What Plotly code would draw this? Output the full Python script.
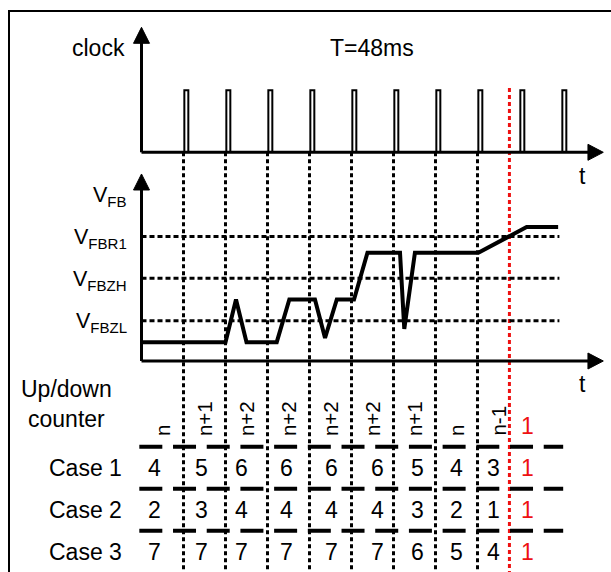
import plotly.graph_objects as go

# ---------------- data ----------------
clock_pulses = [1, 2, 3, 4, 5, 6, 7, 8, 9, 10]      # clock edges (in clock periods)
grid_times = [1, 2, 3, 4, 5, 6, 7, 8]               # dotted sampling lines
reset_time = 8.76                                   # red dashed line
period_label = "T=48ms"

vfb_t = [0, 2.0, 2.25, 2.5, 3.22, 3.52, 4.13, 4.37, 4.65, 5.06, 5.38,
         6.155, 6.257, 6.51, 8.02, 9.17, 9.92]
vfb_v = [0.447, 0.447, 1.461, 0.447, 0.447, 1.461, 1.461, 0.546, 1.461,
         1.461, 2.572, 2.572, 0.760, 2.572, 2.572, 3.183, 3.183]

level_names = ["FBZL", "FBZH", "FBR1"]
level_values = [0.957, 1.964, 2.955]

counter_labels = ["n", "n+1", "n+2", "n+2", "n+2", "n+2", "n+1", "n", "n-1"]
case_names = ["Case 1", "Case 2", "Case 3"]
case1 = [4, 5, 6, 6, 6, 6, 5, 4, 3]
case2 = [2, 3, 4, 4, 4, 4, 3, 2, 1]
case3 = [7, 7, 7, 7, 7, 7, 6, 5, 4]
reset_value = 1

# ---------------- layout constants ----------------
FONT = "Liberation Sans, Arial, Helvetica, sans-serif"
W, H = 611, 572
X0PX, PER = 141.5, 42.0                     # px of t=0, px per clock period
XR = [-X0PX / PER, (W - X0PX) / PER]
# clock axis: px = 152.3 - 62*v
CLK0, CLKS = 152.3, 62.0
YR1 = [(CLK0 - H) / CLKS, CLK0 / CLKS]
# VFB axis: px = 361 - 42.1*v
VFB0, VFBS = 361.0, 42.1
YR2 = [(VFB0 - H) / VFBS, VFB0 / VFBS]
# counter rows: px = 425.7 + 42*r (reversed)
CNT0, CNTS = 425.7, 42.0
YR3 = [(H - CNT0) / CNTS, (0 - CNT0) / CNTS]

value_x = [0.32, 1.44, 2.39, 3.46, 4.53, 5.61, 6.56, 7.5, 8.39]
reset_x = 9.18
t_end = 10.995
arrow_len = 0.365
arrow_half_t = 8 / PER
FS = 23

fig = go.Figure()


def line(x, y, yaxis="y", color="black", width=3, dash="solid"):
    fig.add_trace(go.Scatter(x=x, y=y, yaxis=yaxis, mode="lines",
                             line=dict(color=color, width=width, dash=dash),
                             hoverinfo="skip", showlegend=False))


def tri(x, y, yaxis="y"):
    fig.add_trace(go.Scatter(x=x, y=y, yaxis=yaxis, mode="lines", fill="toself",
                             fillcolor="black", line=dict(color="black", width=1),
                             hoverinfo="skip", showlegend=False))


# outer frame (top and left edges; the rest lies outside the picture)
fx = (9 - X0PX) / PER
fy = (CLK0 - 11) / CLKS
line([XR[1] + 1, fx, fx], [fy, fy, YR1[0] - 1], "y", "black", 2)

# dotted vertical sampling lines (clock baseline -> bottom)
vx, vy = [], []
for g in grid_times:
    vx += [g, g, None]
    vy += [0, YR1[0] - 1, None]
line(vx, vy, "y", "black", 3, "4px,3px")

# horizontal threshold dashed lines
hx, hy = [], []
for lv in level_values:
    hx += [0, 9.95, None]
    hy += [lv, lv, None]
line(hx, hy, "y2", "black", 3, "5px,3px")

# counter row separators
sx, sy = [], []
for r in [0.5, 1.5, 2.5]:
    sx += [-0.052, 10.04, None]
    sy += [r, r, None]
line(sx, sy, "y3", "black", 4, "23px,10.7px")

# red reset line
line([reset_time, reset_time], [1.037, YR1[0] - 1], "y", "#ee1111", 3, "4px,3px")

# clock pulses
px_, py_ = [], []
for p in clock_pulses:
    a, b = p + 0.02, p + 0.115
    px_ += [a, a, b, b, None]
    py_ += [0, 1, 1, 0, None]
line(px_, py_, "y", "black", 2)

# clock axes
line([0, 0], [0, 1.8], "y", "black", 3)
line([0, t_end - 0.2], [0, 0], "y", "black", 3)
tri([0, -arrow_half_t, arrow_half_t, 0], [2.016, 1.758, 1.758, 2.016], "y")
h1 = 8 / CLKS
tri([t_end, t_end - arrow_len, t_end - arrow_len, t_end], [0, h1, -h1, 0], "y")

# VFB axes
line([0, 0], [0, 4.1], "y2", "black", 3)
line([0, t_end - 0.2], [0, 0], "y2", "black", 3)
tri([0, -arrow_half_t, arrow_half_t, 0], [4.442, 4.062, 4.062, 4.442], "y2")
h2 = 8 / VFBS
tri([t_end, t_end - arrow_len, t_end - arrow_len, t_end], [0, h2, -h2, 0], "y2")

# VFB signal
line(vfb_t, vfb_v, "y2", "black", 4)

# ---------------- text ----------------
ann = []


def text(x, y, s, yref="y", size=FS, color="black", xanchor="center",
         yanchor="middle", angle=0, align="center"):
    ann.append(dict(x=x, y=y, xref="x", yref=yref, text=s, showarrow=False,
                    font=dict(family=FONT, size=size, color=color),
                    xanchor=xanchor, yanchor=yanchor, textangle=angle,
                    align=align, borderpad=0))


text(-0.36, 1.682, "clock", "y", FS, xanchor="right")
text(5.49, 1.682, period_label, "y", FS)
text(10.51, -0.382, "t", "y", FS)
text(10.51, -0.546, "t", "y2", FS)

text(-0.32, 3.9, "V<sub>FB</sub>", "y2", 21.5, xanchor="right")
for name, lv in zip(level_names, level_values):
    text(-0.32, lv - 0.05, "V<sub>" + name + "</sub>", "y2", 21.5, xanchor="right")

text(-1.79, -0.52, "Up/down<br>counter", "y3", FS)
for k, lab in enumerate(counter_labels):
    text(k + 0.5, 0.27, lab, "y3", 20.5, angle=-90, yanchor="bottom")
text(reset_x, 0.0, str(reset_value), "y3", FS, color="#ee1111")

for r, (name, vals) in enumerate(zip(case_names, [case1, case2, case3]), start=1):
    text(-0.448, r, name, "y3", FS, xanchor="right")
    for xx, v in zip(value_x, vals):
        text(xx, r, str(v), "y3", FS)
    text(reset_x, r, str(reset_value), "y3", FS, color="#ee1111")

fig.update_layout(
    width=W, height=H, margin=dict(l=0, r=0, t=0, b=0, pad=0),
    paper_bgcolor="white", plot_bgcolor="white", showlegend=False,
    xaxis=dict(range=XR, visible=False, fixedrange=True),
    yaxis=dict(range=YR1, visible=False, fixedrange=True),
    yaxis2=dict(range=YR2, visible=False, fixedrange=True, overlaying="y"),
    yaxis3=dict(range=YR3, visible=False, fixedrange=True, overlaying="y"),
    annotations=ann,
)

fig.write_html("out.html", config={"displayModeBar": False, "staticPlot": True},
               post_script="document.body.style.margin='0';document.body.style.overflow='hidden';")
